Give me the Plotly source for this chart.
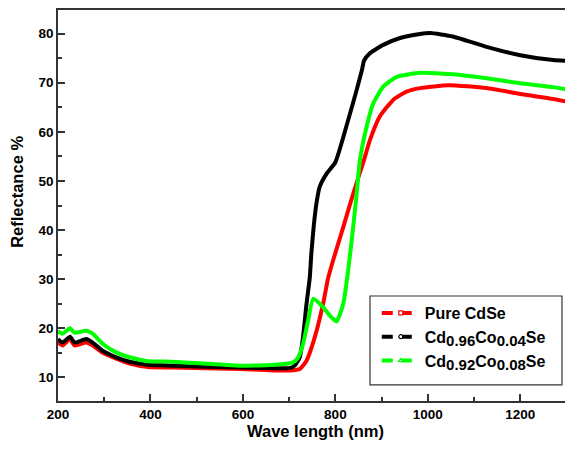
import plotly.graph_objects as go

# ---- data ----
red_x = [200, 210, 226, 236, 261, 275, 297, 326, 355, 395, 448, 593, 650, 701, 723, 737.6, 755.5,
         773.5, 784, 795, 817, 838.5, 861.7, 874.7, 896, 925, 954, 983, 1045, 1127, 1200, 1271, 1314]
red_y = [17.1, 16.5, 17.8, 16.5, 17.1, 16.5, 15.0, 13.8, 12.8, 12.1, 12.0, 11.7, 11.5, 11.4, 11.7, 13.4, 18.2,
         25.0, 30.1, 33.8, 40.6, 47.4, 54.2, 58.3, 63.1, 66.5, 68.2, 68.9, 69.5, 68.9, 67.7, 66.7, 65.9]

blk_x = [200, 210, 226, 236, 261, 275, 297, 326, 355, 395, 448, 593, 650, 701, 712, 723, 730, 737.6,
         744.7, 748, 753, 759, 766, 781, 800, 827.7, 846, 858, 862, 874.7, 903.5, 940, 983, 1005, 1054,
         1127, 1200, 1271, 1314]
blk_y = [17.8, 17.1, 18.3, 17.1, 17.8, 17.1, 15.4, 14.1, 13.2, 12.6, 12.4, 12.0, 11.9, 11.9, 12.4, 14.1, 18.2, 25.0,
         30.4, 35.2, 40.6, 45.4, 48.8, 51.5, 53.8, 62.4, 68.5, 72.8, 74.5, 76.0, 77.7, 79.1, 79.9, 80.1, 79.4,
         77.3, 75.6, 74.6, 74.4]

grn_x = [200, 210, 226, 236, 261, 275, 297, 326, 355, 395, 448, 593, 650, 701, 708.5, 719, 730, 741, 752,
         773.5, 788, 802.5, 817, 827.7, 838.5, 846, 853, 867.5, 882, 903.5, 932.5, 983, 1054, 1127, 1200,
         1271, 1314]
grn_y = [19.4, 18.9, 20.0, 19.1, 19.5, 18.9, 16.8, 15.1, 14.1, 13.3, 13.2, 12.4, 12.5, 12.9, 13.1, 14.0, 16.8, 21.6, 26.0,
         24.3, 22.6, 21.4, 25.0, 31.8, 40.6, 47.4, 54.2, 61.0, 65.8, 69.2, 71.2, 72.0, 71.7, 70.9, 69.9,
         69.1, 68.4]

SUB = "<sub><span style='font-size:15px'>%s</span></sub>"
names = ["Pure CdSe",
         "Cd" + SUB % "0.96" + "Co" + SUB % "0.04" + "Se",
         "Cd" + SUB % "0.92" + "Co" + SUB % "0.08" + "Se"]
colors = ["#FF0000", "#000000", "#00FF00"]
symbols = ["square", "circle", "triangle-up"]

x_ticks = [200, 400, 600, 800, 1000, 1200]
y_ticks = [10, 20, 30, 40, 50, 60, 70, 80]

FONT = "Liberation Sans, Arial, sans-serif"

fig = go.Figure()
for xs, ys, nm, col in zip([red_x, blk_x, grn_x], [red_y, blk_y, grn_y], names, colors):
    fig.add_trace(go.Scatter(
        x=xs, y=ys, mode="lines", name=nm, showlegend=False,
        line=dict(color=col, width=4, shape="spline", smoothing=0.5),
    ))
for nm, col, sym in zip(names, colors, symbols):
    fig.add_trace(go.Scatter(
        x=[None], y=[None], mode="lines+markers", name=nm,
        line=dict(color=col, width=4, dash="11px,8px"),
        marker=dict(symbol=sym, size=4, color="white", line=dict(color=col, width=1.2)),
    ))

axis_common = dict(
    showline=True, linecolor="#333333", linewidth=1.5,
    ticks="inside", ticklen=7, tickwidth=1.5, tickcolor="#333333",
    showgrid=False, zeroline=False, automargin=False,
    tickfont=dict(family=FONT, size=13.5, color="black", weight="bold"),
)

# page body has an 8px margin: figure sits at (8, 8) in the window
fig.update_layout(
    width=565, height=443,
    margin=dict(l=50, r=0, t=2, b=50),
    plot_bgcolor="white", paper_bgcolor="white",
    font=dict(family=FONT, color="black"),
    xaxis=dict(
        range=[200, 1314], tickvals=x_ticks, mirror=True,
        minor=dict(dtick=100, tick0=200, ticks="inside", ticklen=4, tickwidth=1.5, tickcolor="#333333"),
        title=dict(text="Wave length (nm)", font=dict(family=FONT, size=16.5, weight="bold"), standoff=4),
        **axis_common,
    ),
    yaxis=dict(
        range=[5.2, 84.8], tickvals=y_ticks, mirror=False,
        minor=dict(dtick=5, tick0=0, ticks="inside", ticklen=4, tickwidth=1.5, tickcolor="#333333"),
        **axis_common,
    ),
    legend=dict(
        x=0.619, y=0.2685, xanchor="left", yanchor="top",
        borderwidth=0, bgcolor="rgba(0,0,0,0)",
        font=dict(family=FONT, size=16, color="black", weight="bold"),
        tracegroupgap=3, itemwidth=38,
    ),
    shapes=[dict(
        type="rect", xref="paper", yref="paper",
        x0=0.6058, x1=0.9786, y0=0.041, y1=0.2685,
        line=dict(color="#333333", width=1.2), fillcolor="white", layer="above",
    )],
    annotations=[dict(
        text="Reflectance %", textangle=-90, showarrow=False,
        xref="paper", yref="paper", x=-0.0796, y=0.535,
        xanchor="center", yanchor="middle",
        font=dict(family=FONT, size=16.5, color="black", weight="bold"),
    )],
)

fig.write_html("out.html")
